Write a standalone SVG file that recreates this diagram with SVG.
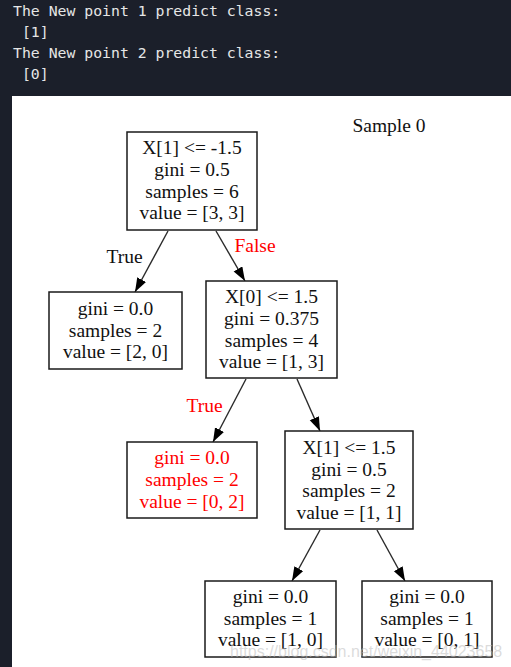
<svg xmlns="http://www.w3.org/2000/svg" width="511" height="667" viewBox="0 0 511 667">
<defs>
<style>
.con{font-family:"DejaVu Sans Mono","Liberation Mono",monospace;font-size:14.8px;fill:#e6e6e6}
.box{fill:#fff;stroke:#1a1a1a;stroke-width:1.5}
.t{font-family:"Liberation Serif","Times New Roman",serif;font-size:19.5px;fill:#111;text-anchor:middle}
.red{fill:#ff0000}
.edge{stroke:#2a2a2a;stroke-width:1.4;fill:none;marker-end:url(#ah)}
.wm{font-family:"Liberation Sans",Arial,sans-serif;font-size:16px;fill:#bdbdbd;fill-opacity:0.55}
</style>
<marker id="ah" markerUnits="userSpaceOnUse" markerWidth="15" markerHeight="11" refX="14" refY="5" orient="auto">
<path d="M0,0 L14,5 L0,10 z" fill="#000"/>
</marker>
</defs>
<rect x="0" y="0" width="511" height="667" fill="#1b1f2a"/>
<text class="con" x="13" y="16">The New point 1 predict class:</text>
<text class="con" x="13" y="37" xml:space="preserve"> [1]</text>
<text class="con" x="13" y="58">The New point 2 predict class:</text>
<text class="con" x="13" y="79" xml:space="preserve"> [0]</text>
<rect x="12" y="96" width="499" height="571" fill="#fff"/>
<text class="t" x="389" y="132">Sample 0</text>
<g id="connectors">
<line class="edge" x1="168" y1="231" x2="135" y2="292"/>
<line class="edge" x1="216" y1="231" x2="245" y2="281"/>
<line class="edge" x1="246" y1="379" x2="213" y2="442"/>
<line class="edge" x1="297" y1="379" x2="320" y2="431"/>
<line class="edge" x1="320" y1="530" x2="292" y2="581"/>
<line class="edge" x1="377" y1="530" x2="405" y2="581"/>
<text class="t" x="124.5" y="263">True</text>
<text class="t red" x="255" y="252">False</text>
<text class="t red" x="204.5" y="412">True</text>
</g>
<g id="node0">
<rect class="box" x="127" y="132" width="130" height="98"/>
<text class="t" x="192" y="154">X[1] &lt;= -1.5</text>
<text class="t" x="192" y="176">gini = 0.5</text>
<text class="t" x="192" y="197.5">samples = 6</text>
<text class="t" x="192" y="219">value = [3, 3]</text>
</g>
<g id="node1">
<rect class="box" x="49" y="292" width="133" height="77"/>
<text class="t" x="115.5" y="315">gini = 0.0</text>
<text class="t" x="115.5" y="336.5">samples = 2</text>
<text class="t" x="115.5" y="358">value = [2, 0]</text>
</g>
<g id="node2">
<rect class="box" x="206" y="281" width="131" height="97"/>
<text class="t" x="271.5" y="303">X[0] &lt;= 1.5</text>
<text class="t" x="271.5" y="325">gini = 0.375</text>
<text class="t" x="271.5" y="347">samples = 4</text>
<text class="t" x="271.5" y="368">value = [1, 3]</text>
</g>
<g id="node3">
<rect class="box" x="127" y="442" width="130" height="76"/>
<text class="t red" x="192" y="464">gini = 0.0</text>
<text class="t red" x="192" y="486">samples = 2</text>
<text class="t red" x="192" y="507.5">value = [0, 2]</text>
</g>
<g id="node4">
<rect class="box" x="285" y="431" width="128" height="98"/>
<text class="t" x="349" y="454">X[1] &lt;= 1.5</text>
<text class="t" x="349" y="475.5">gini = 0.5</text>
<text class="t" x="349" y="497">samples = 2</text>
<text class="t" x="349" y="519">value = [1, 1]</text>
</g>
<g id="node5">
<rect class="box" x="205" y="581" width="131" height="76"/>
<text class="t" x="270.5" y="603">gini = 0.0</text>
<text class="t" x="270.5" y="625">samples = 1</text>
<text class="t" x="270.5" y="646">value = [1, 0]</text>
</g>
<g id="node6">
<rect class="box" x="362" y="581" width="130" height="76"/>
<text class="t" x="427" y="603">gini = 0.0</text>
<text class="t" x="427" y="625">samples = 1</text>
<text class="t" x="427" y="646">value = [0, 1]</text>
</g>
<text class="wm" x="230" y="657">https://blog.csdn.net/weixin_44023658</text>
</svg>
